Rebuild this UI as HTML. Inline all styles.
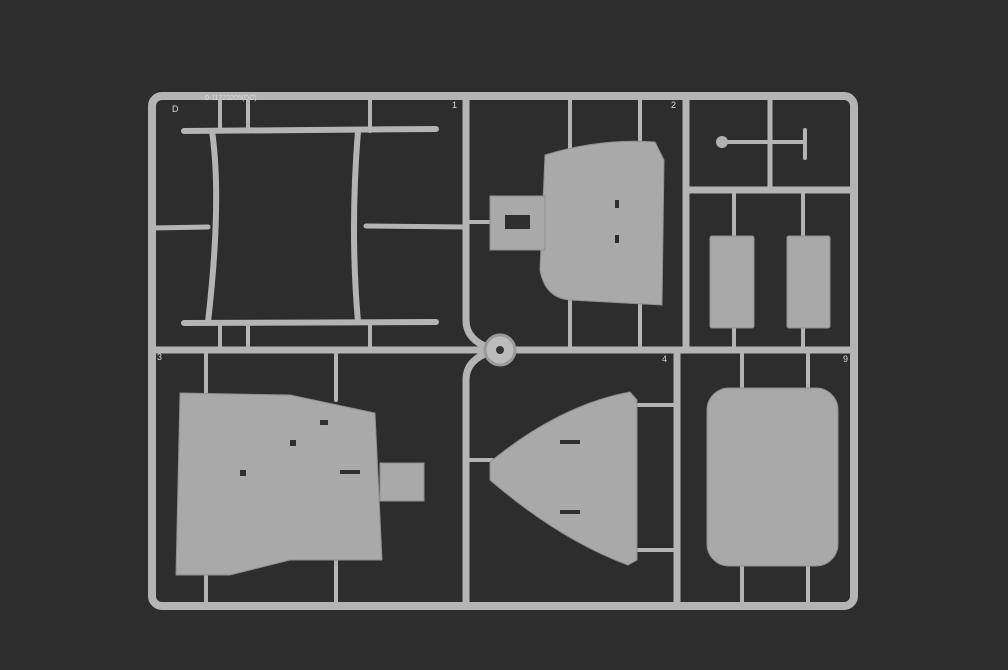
<!DOCTYPE html>
<html><head><style>
html,body{margin:0;padding:0;background:#2c2c2c;}
svg{display:block;}
</style></head><body>
<svg width="1008" height="670" viewBox="0 0 1008 670" xmlns="http://www.w3.org/2000/svg">
<rect width="1008" height="670" fill="#2d2d2d"/>
<g stroke="#b4b4b4" fill="none" stroke-linecap="round">
 <!-- outer frame -->
 <rect x="152" y="96" width="702" height="510" rx="10" stroke-width="8"/>
 <!-- horizontal main -->
 <line x1="152" y1="350" x2="854" y2="350" stroke-width="7"/>
 <!-- vertical left-middle with curve to hub -->
 <path d="M466 96 V320 Q466 340 490 348 M466 605 V380 Q466 360 490 352" stroke-width="7"/>
 <!-- right verticals -->
 <line x1="686" y1="96" x2="686" y2="350" stroke-width="7"/>
 <line x1="677" y1="350" x2="677" y2="605" stroke-width="7"/>
 <line x1="686" y1="190" x2="854" y2="190" stroke-width="7"/>
 <!-- top-left frame part -->
 <line x1="184" y1="131" x2="436" y2="129" stroke-width="6"/>
 <line x1="184" y1="323" x2="436" y2="322" stroke-width="6"/>
 <path d="M212 131 Q222 200 208 322" stroke-width="6"/>
 <path d="M358 131 Q350 230 358 322" stroke-width="6"/>
 <line x1="152" y1="228" x2="208" y2="227" stroke-width="5"/>
 <line x1="366" y1="226" x2="466" y2="227" stroke-width="5"/>
 <line x1="220" y1="96" x2="220" y2="131" stroke-width="4"/>
 <line x1="248" y1="96" x2="248" y2="131" stroke-width="4"/>
 <line x1="370" y1="96" x2="370" y2="131" stroke-width="4"/>
 <line x1="220" y1="322" x2="220" y2="350" stroke-width="4"/>
 <line x1="248" y1="322" x2="248" y2="350" stroke-width="4"/>
 <line x1="370" y1="322" x2="370" y2="350" stroke-width="4"/>
 <!-- gates top middle -->
 <line x1="570" y1="96" x2="570" y2="150" stroke-width="4"/>
 <line x1="640" y1="96" x2="640" y2="150" stroke-width="4"/>
 <line x1="570" y1="290" x2="570" y2="350" stroke-width="4"/>
 <line x1="640" y1="290" x2="640" y2="350" stroke-width="4"/>
 <line x1="466" y1="222" x2="492" y2="222" stroke-width="4"/>
 <!-- top right small parts -->
 <line x1="770" y1="96" x2="770" y2="190" stroke-width="5"/>
 <line x1="722" y1="142" x2="805" y2="142" stroke-width="4"/>
 <line x1="805" y1="130" x2="805" y2="158" stroke-width="4"/>
 <line x1="734" y1="190" x2="734" y2="240" stroke-width="4"/>
 <line x1="803" y1="190" x2="803" y2="240" stroke-width="4"/>
 <line x1="734" y1="325" x2="734" y2="350" stroke-width="4"/>
 <line x1="803" y1="325" x2="803" y2="350" stroke-width="4"/>
 <!-- bottom gates -->
 <line x1="206" y1="350" x2="206" y2="395" stroke-width="4"/>
 <line x1="336" y1="350" x2="336" y2="400" stroke-width="4"/>
 <line x1="206" y1="570" x2="206" y2="606" stroke-width="4"/>
 <line x1="336" y1="560" x2="336" y2="606" stroke-width="4"/>
 <line x1="636" y1="405" x2="677" y2="405" stroke-width="4"/>
 <line x1="636" y1="550" x2="677" y2="550" stroke-width="4"/>
 <line x1="466" y1="460" x2="492" y2="460" stroke-width="4"/>
 <line x1="742" y1="350" x2="742" y2="392" stroke-width="4"/>
 <line x1="808" y1="350" x2="808" y2="392" stroke-width="4"/>
 <line x1="742" y1="562" x2="742" y2="606" stroke-width="4"/>
 <line x1="808" y1="562" x2="808" y2="606" stroke-width="4"/>
</g>
<!-- hub -->
<circle cx="500" cy="350" r="15" fill="#bcbcbc" stroke="#9a9a9a" stroke-width="3"/>
<circle cx="500" cy="350" r="4" fill="#333"/>
<circle cx="722" cy="142" r="6" fill="#b0b0b0"/>
<g fill="#a9a9a9" stroke="#8f8f8f" stroke-width="1">
 <!-- top middle part -->
 <path d="M545 155 Q600 138 655 142 L664 160 L662 305 L570 300 Q545 298 540 270 Z"/>
 <rect x="490" y="196" width="55" height="54"/>
 <!-- right rects -->
 <rect x="710" y="236" width="44" height="92" rx="2"/>
 <rect x="787" y="236" width="43" height="92" rx="2"/>
 <!-- bottom left plate -->
 <path d="M180 393 L290 395 L375 413 L382 560 L290 560 L230 575 L176 575 Z"/>
 <rect x="380" y="463" width="44" height="38"/>
 <!-- triangle -->
 <path d="M490 462 Q560 405 630 392 L637 400 L637 560 L628 565 Q560 540 490 480 Z"/>
 <!-- rounded rect -->
 <rect x="707" y="388" width="131" height="178" rx="22"/>
</g>
<g fill="#2f2f2f">
 <rect x="505" y="215" width="25" height="14"/>
 <rect x="615" y="200" width="4" height="8"/><rect x="615" y="235" width="4" height="8"/>
 <rect x="320" y="420" width="8" height="5"/><rect x="340" y="470" width="20" height="4"/>
 <rect x="560" y="440" width="20" height="4"/><rect x="560" y="510" width="20" height="4"/>
 <rect x="240" y="470" width="6" height="6"/><rect x="290" y="440" width="6" height="6"/>
</g>
<g font-family="Liberation Sans, sans-serif" font-size="9" fill="#d8d8d8">
 <text x="172" y="112">D</text>
 <text x="452" y="108">1</text><text x="671" y="108">2</text>
 <text x="157" y="360">3</text><text x="662" y="362">4</text><text x="843" y="362">9</text>
 <text x="205" y="100" font-size="7">0-11723205(DC)</text>
</g>
</svg>
</body></html>
